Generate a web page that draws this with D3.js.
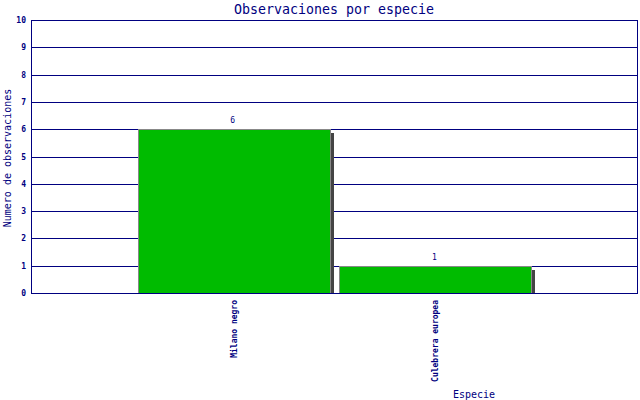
<!DOCTYPE html>
<html><head><meta charset="utf-8">
<script src="https://cdn.jsdelivr.net/npm/d3@7"></script>
<style>body{margin:0;background:#fff}svg{display:block}text{font-family:"DejaVu Sans Mono",monospace;fill:#000080}</style>
</head><body><svg id="c" width="640" height="400"></svg>
<script>
const categories = ["Milano negro", "Culebrera europea"];
const values = [6, 1];
const yTicks = [0,1,2,3,4,5,6,7,8,9,10];
const title = "Observaciones por especie";
const yTitle = "Numero de observaciones";
const xTitle = "Especie";

const svg = d3.select("#c");
const L = 32, R = 637, T = 20, B = 293;
const x = d3.scalePoint().domain(categories).range([L, R]).padding(1);
const y = d3.scaleLinear().domain([0, 10]).range([B, T]);
const bw = 192;
const navy = "#000080";

// grid
svg.append("g").selectAll("line").data(yTicks).join("line")
  .attr("x1", L).attr("x2", R).attr("y1", d => Math.round(y(d)) + 0.5).attr("y2", d => Math.round(y(d)) + 0.5)
  .attr("stroke", navy).attr("stroke-width", 1);
svg.append("line").attr("x1", R + 0.5).attr("x2", R + 0.5).attr("y1", T).attr("y2", B).attr("stroke", navy);

// shadows
svg.append("g").selectAll("rect").data(values).join("rect")
  .attr("x", (d, i) => Math.round(x(categories[i]) - bw / 2) + 4)
  .attr("y", d => Math.round(y(d)) + 4)
  .attr("width", bw).attr("height", d => B - Math.round(y(d)) - 4)
  .attr("fill", "#444444");
// bars
svg.append("g").selectAll("rect").data(values).join("rect")
  .attr("x", (d, i) => Math.round(x(categories[i]) - bw / 2) + 0.5)
  .attr("y", d => Math.round(y(d)) + 0.5)
  .attr("width", bw).attr("height", d => B - Math.round(y(d)))
  .attr("fill", "#00bb00").attr("stroke", "#888888").attr("stroke-width", 1);

// axes lines
svg.append("line").attr("x1", L - 0.5).attr("x2", L - 0.5).attr("y1", T).attr("y2", B + 1).attr("stroke", navy);
svg.append("line").attr("x1", L).attr("x2", R + 1).attr("y1", B + 0.5).attr("y2", B + 0.5).attr("stroke", navy);

// y tick labels
svg.append("g").selectAll("text").data(yTicks).join("text")
  .attr("x", 26).attr("y", d => y(d) + 3).attr("text-anchor", "end")
  .attr("font-size", 8).attr("font-weight", "bold").text(d => d);

// value labels
svg.append("g").selectAll("text").data(values).join("text")
  .attr("x", (d, i) => x(categories[i]) - 1).attr("y", d => y(d) - 6).attr("text-anchor", "middle")
  .attr("font-size", 8).text(d => d);

// category labels
svg.append("g").selectAll("text").data(categories).join("text")
  .attr("transform", d => `translate(${x(d) + 3},${300}) rotate(-90)`)
  .attr("text-anchor", "end").attr("font-size", 8).attr("font-weight", "bold").text(d => d);

svg.append("text").attr("x", 334).attr("y", 14).attr("text-anchor", "middle").attr("font-size", 13.3).text(title);
svg.append("text").attr("transform", "translate(11,158) rotate(-90)").attr("text-anchor", "middle").attr("font-size", 10).text(yTitle);
svg.append("text").attr("x", 474).attr("y", 398).attr("text-anchor", "middle").attr("font-size", 10).text(xTitle);
</script></body></html>
